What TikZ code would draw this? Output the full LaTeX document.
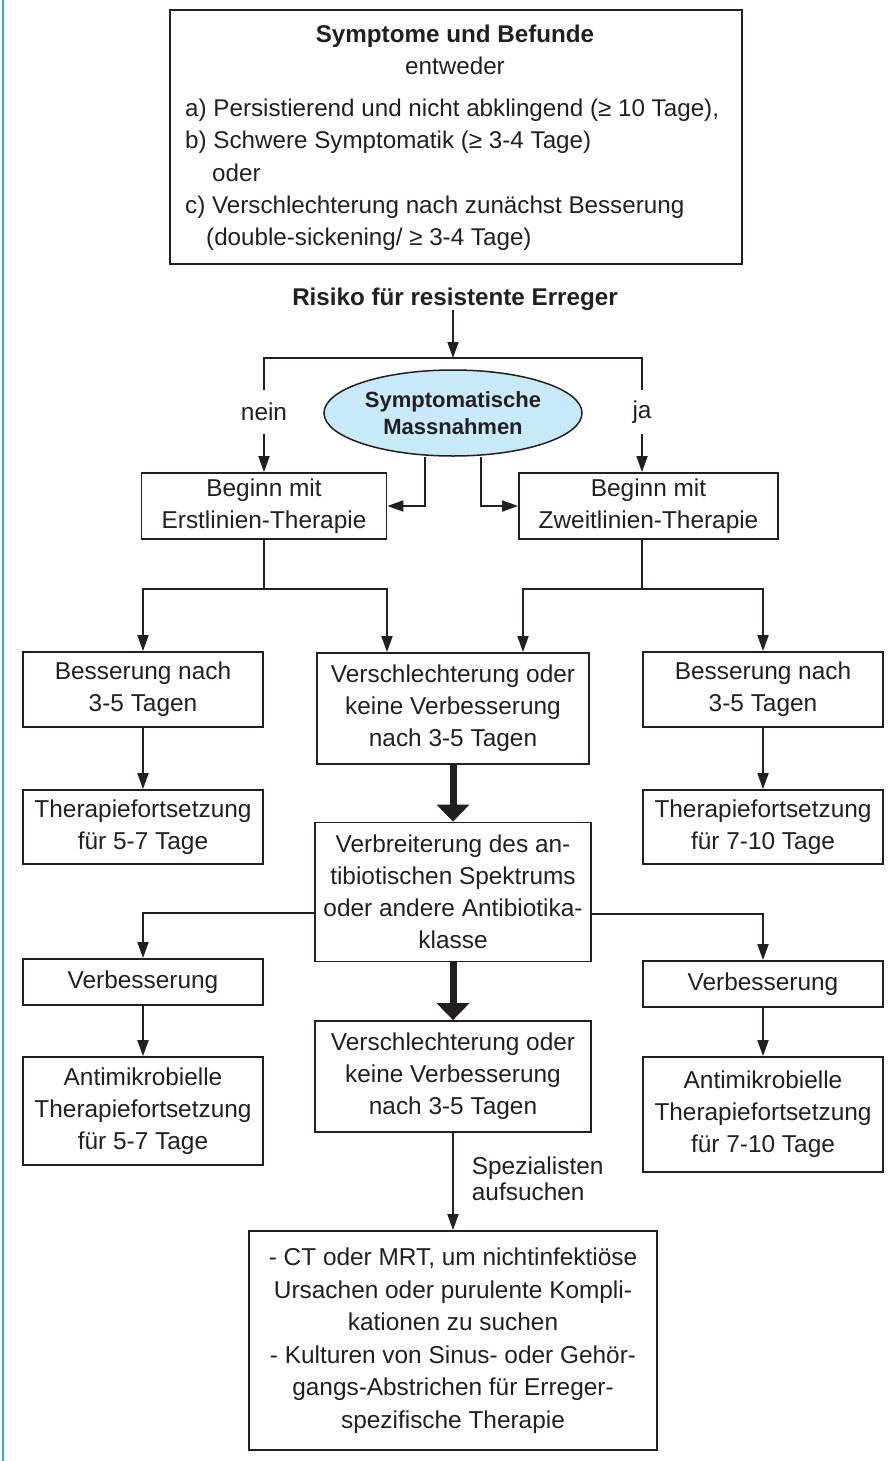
\documentclass[tikz,border=0pt]{standalone}
\usepackage{fontspec}
\setmainfont{Liberation Sans}
\usetikzlibrary{arrows.meta,shapes.geometric}
\definecolor{ink}{HTML}{231F20}
\definecolor{ellfill}{HTML}{C8E9F8}
\definecolor{sidebar}{HTML}{29A9E0}
\begin{document}
\begin{tikzpicture}[x=1pt,y=-1pt,
  every node/.style={text=ink},
  fs/.style={font=\fontsize{24.4}{32}\selectfont},
  tfs/.style={font=\fontsize{24.2}{32}\selectfont},
  box/.style={draw=ink, line width=1.8pt, fs, align=center, inner sep=0pt},
  ln/.style={draw=ink, line width=1.8pt},
  arr/.style={draw=ink, line width=1.8pt, -{Triangle[length=16pt,width=11pt]}},
  bigarr/.style={draw=ink, line width=7pt, -{Triangle[length=17pt,width=32pt]}},
  lbl/.style={fs, inner sep=0pt},
  tlbl/.style={tfs, inner sep=0pt}
]
\useasboundingbox (0,0) rectangle (890,1461);
\fill[white] (0,0) rectangle (890,1461);
\draw[sidebar, line width=2pt] (3,0) -- (3,1461);

% top box
\node[box, minimum width=572pt, minimum height=254pt] (top) at (456,137) {};
\node[tlbl, anchor=base, font=\bfseries\fontsize{24.2}{32}\selectfont] (title) at (455,43) {Symptome und Befunde};
\node[tlbl, anchor=base] (either) at (455,75) {entweder};
\node[tlbl, anchor=base west] (la) at (185,117) {a) Persistierend und nicht abklingend (≥ 10 Tage),};
\node[tlbl, anchor=base west] (lb) at (185,149) {b) Schwere Symptomatik (≥ 3-4 Tage)};
\node[tlbl, anchor=base west] (lor) at (212,181) {oder};
\node[tlbl, anchor=base west] (lc) at (185,213) {c) Verschlechterung nach zunächst Besserung};
\node[tlbl, anchor=base west] (ld) at (206,245) {(double-sickening/ ≥ 3-4 Tage)};

% risk
\node[lbl, anchor=base, font=\bfseries\fontsize{24.2}{32}\selectfont] (risk) at (455,305) {Risiko für resistente Erreger};
\coordinate (split) at (453,358);
\draw[arr] (risk.south -| split) -- (split);

\node[lbl, minimum height=44pt] (nein) at (264,412) {nein};
\node[lbl, minimum height=44pt] (ja) at (642,412) {ja};
\draw[ln] (nein.north) |- (split) -| (ja.north);

\node[ellipse, draw=ink, line width=1.5pt, fill=ellfill, minimum width=258pt, minimum height=86pt, inner sep=0pt, align=center, font=\bfseries\fontsize{22}{27}\selectfont] (ell) at (453,413) {Symptomatische\\Massnahmen};

\node[box, minimum width=245pt, minimum height=66pt] (b1) at (264,506) {Beginn mit\\Erstlinien-Therapie};
\node[box, minimum width=259pt, minimum height=66pt] (b2) at (648.5,506) {Beginn mit\\Zweitlinien-Therapie};

\draw[arr] (nein.south) -- (nein.south |- b1.north);
\draw[arr] (ja.south) -- (ja.south |- b2.north);
\draw[arr] ([xshift=-28pt]ell.south) |- (b1.east);
\draw[arr] ([xshift=28pt]ell.south) |- (b2.west);

% row 3
\node[box, minimum width=240pt, minimum height=75pt] (L1) at (143,689.5) {Besserung nach\\3-5 Tagen};
\node[box, minimum width=272pt, minimum height=111pt] (M1) at (453,708.5) {Verschlechterung oder\\keine Verbesserung\\nach 3-5 Tagen};
\node[box, minimum width=240pt, minimum height=75pt] (R1) at (763,689.5) {Besserung nach\\3-5 Tagen};

\coordinate (s1) at (264,589);
\coordinate (s2) at (642,589);
\draw[ln] (b1.south) -- (s1);
\draw[arr] (s1) -| (L1.north);
\draw[arr] (s1) -| ([xshift=-66pt]M1.north);
\draw[ln] (b2.south -| s2) -- (s2);
\draw[arr] (s2) -| ([xshift=70pt]M1.north);
\draw[arr] (s2) -| (R1.north);

\node[box, minimum width=240pt, minimum height=74pt] (L2) at (143,827) {Therapiefortsetzung\\für 5-7 Tage};
\node[box, minimum width=240pt, minimum height=74pt] (R2) at (763,827) {Therapiefortsetzung\\für 7-10 Tage};
\draw[arr] (L1.south) -- (L2.north);
\draw[arr] (R1.south) -- (R2.north);

\node[box, minimum width=276pt, minimum height=139pt] (M2) at (453,892) {Verbreiterung des an-\\tibiotischen Spektrums\\oder andere Antibiotika-\\klasse};
\draw[bigarr] (M1.south) -- (M2.north);

\node[box, minimum width=240pt, minimum height=46pt] (L3) at (143,982) {Verbesserung};
\node[box, minimum width=240pt, minimum height=46pt] (R3) at (763,984) {Verbesserung};
\draw[arr] ([yshift=-21pt]M2.west) -| (L3.north);
\draw[arr] ([yshift=-22pt]M2.east) -| (R3.north);

\node[box, minimum width=240pt, minimum height=108pt] (L4) at (143,1111) {Antimikrobielle\\Therapiefortsetzung\\für 5-7 Tage};
\node[box, minimum width=240pt, minimum height=115pt] (R4) at (763,1114.5) {Antimikrobielle\\Therapiefortsetzung\\für 7-10 Tage};
\draw[arr] (L3.south) -- (L4.north);
\draw[arr] (R3.south) -- (R4.north);

\node[box, minimum width=276pt, minimum height=111pt] (M3) at (453,1076.5) {Verschlechterung oder\\keine Verbesserung\\nach 3-5 Tagen};
\draw[bigarr] (M2.south) -- (M3.north);

\node[box, minimum width=408pt, minimum height=219pt, font=\fontsize{24.4}{32.5}\selectfont] (M4) at (453,1340.5) {- CT oder MRT, um nichtinfektiöse\\Ursachen oder purulente Kompli-\\kationen zu suchen\\- Kulturen von Sinus- oder Gehör-\\gangs-Abstrichen für Erreger-\\spezifische Therapie};
\draw[arr] (M3.south) -- node[anchor=west, align=left, inner sep=0pt, xshift=18pt, yshift=3pt, font=\fontsize{24.4}{26}\selectfont] (spez) {Spezialisten\\aufsuchen} (M4.north);
\end{tikzpicture}
\end{document}
